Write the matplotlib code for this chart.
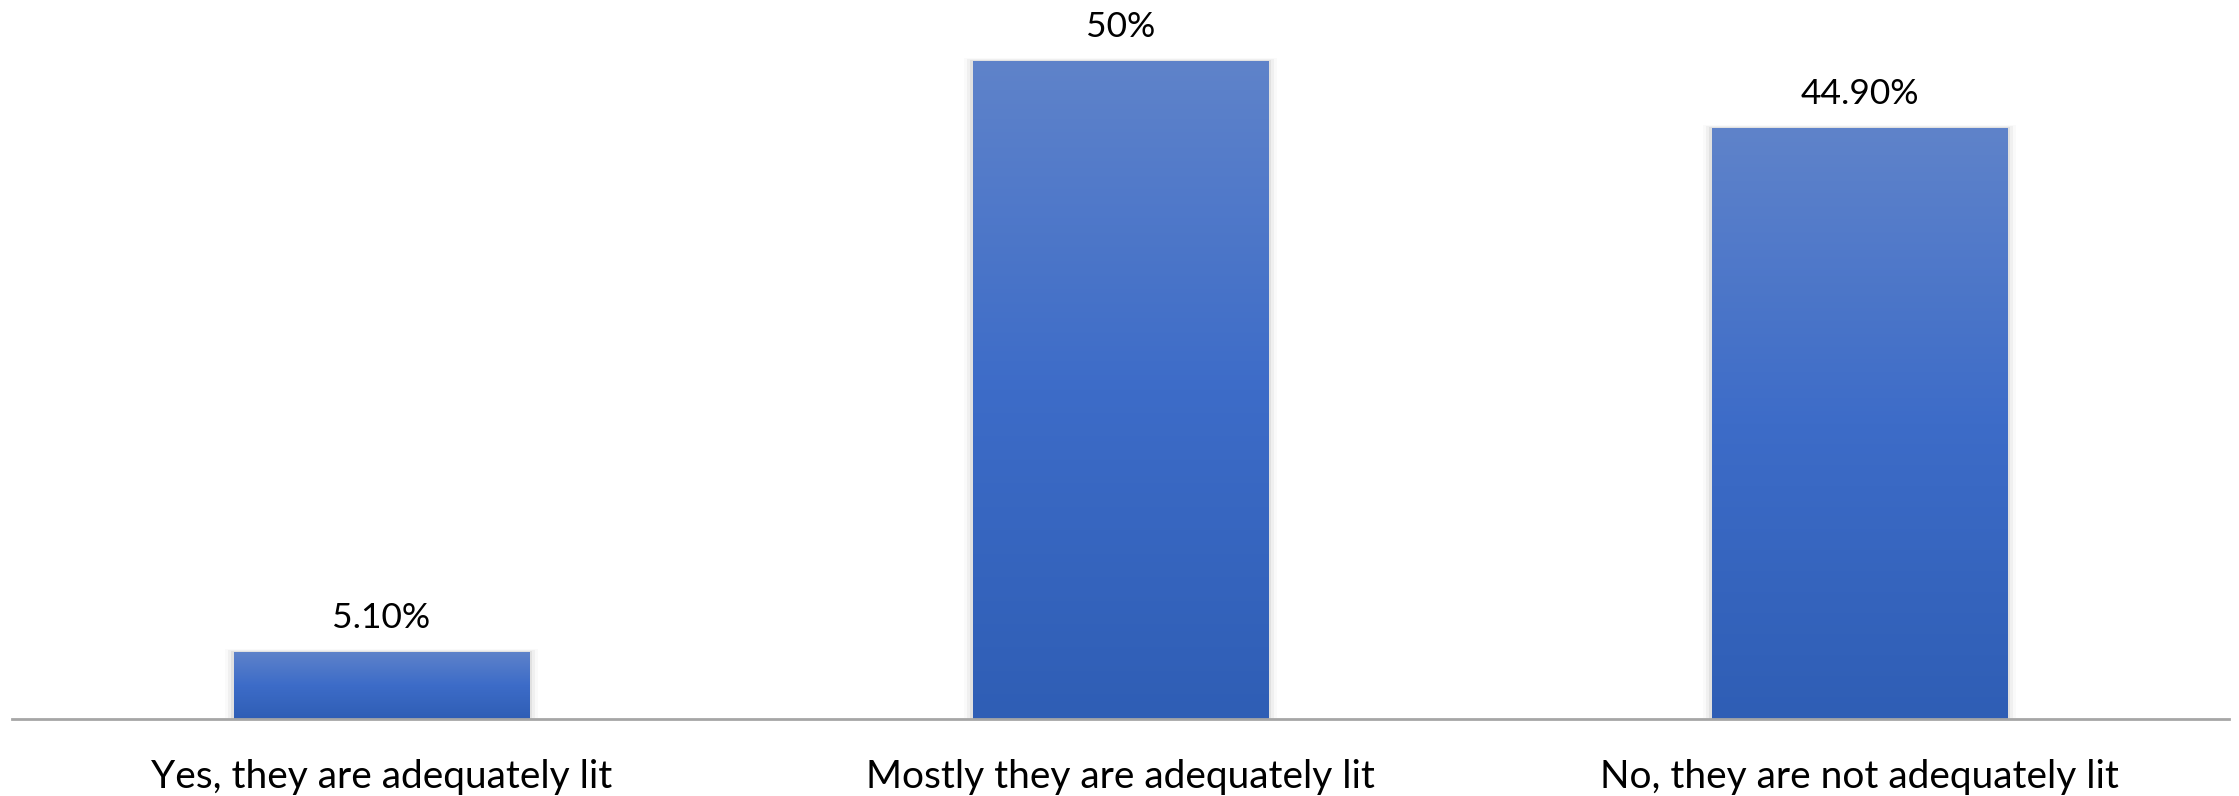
import numpy as np
import matplotlib.pyplot as plt
from matplotlib.colors import LinearSegmentedColormap

plt.rcParams['font.family'] = ['Lato', 'DejaVu Sans']

categories = ['Yes, they are adequately lit', 'Mostly they are adequately lit',
              'No, they are not adequately lit']
values = [5.1, 50, 44.9]
value_labels = ['5.10%', '50%', '44.90%']

fig = plt.figure(figsize=(22.39, 7.96), dpi=100)
ax = fig.add_axes([12 / 2239, 77 / 796, 2217 / 2239, 719 / 796])

x = np.arange(len(categories))
bars = ax.bar(x, values, width=0.40, color='none', edgecolor='none', zorder=3)

# gradient fill, light at top, dark at bottom of each bar
cmap = LinearSegmentedColormap.from_list('g', ['#2F5EB5', '#3D6CC8', '#5F83CA'])
grad = np.linspace(0, 1, 256).reshape(-1, 1)
for b in bars:
    x0, y0 = b.get_x(), b.get_y()
    w, h = b.get_width(), b.get_height()
    # soft shadow
    for i, a in enumerate([0.06, 0.04, 0.02]):
        d = 0.004 * (i + 1)
        ax.add_patch(plt.Rectangle((x0 - d, y0), w + 2 * d, h + d * 20,
                                   color='black', alpha=a, lw=0, zorder=2))
    im = ax.imshow(grad, cmap=cmap, aspect='auto', origin='lower',
                   extent=(x0, x0 + w, y0, y0 + h), zorder=3)
    im.set_clip_path(b)

for xi, v, lab in zip(x, values, value_labels):
    ax.annotate(lab, (xi, v), xytext=(0, 13), textcoords='offset points',
                ha='center', va='bottom', fontsize=25.5, color='#000000')

ax.set_xlim(-0.5, 2.5)
ax.set_ylim(0, 50 * 719 / 658)
ax.set_xticks(x)
ax.set_xticklabels(categories, fontsize=28)
ax.tick_params(axis='x', length=0, pad=29)
ax.set_yticks([])
for s in ['top', 'right', 'left']:
    ax.spines[s].set_visible(False)
ax.spines['bottom'].set_color('#A6A6A6')
ax.spines['bottom'].set_linewidth(2)
ax.spines['bottom'].set_zorder(4)

fig.savefig('out.png', dpi=100, facecolor='white')
